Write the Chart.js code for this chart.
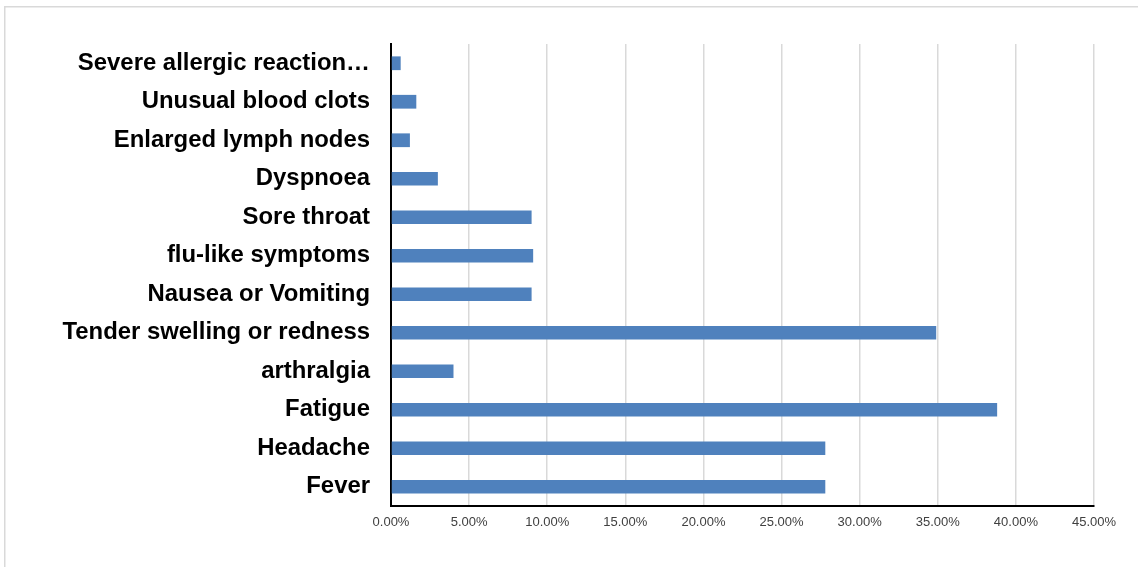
<!DOCTYPE html>
<html>
<head>
<meta charset="utf-8">
<script src="https://cdn.jsdelivr.net/npm/chart.js@4/dist/chart.umd.min.js"></script>
<style>
  html, body { margin: 0; padding: 0; background: #ffffff; }
  #wrap { width: 1138px; height: 567px; position: relative; }
</style>
</head>
<body>
<div id="wrap"><canvas id="chart" width="1138" height="567"></canvas></div>
<script>
// Reported side effects, listed top to bottom
const symptoms = [
  'Severe allergic reaction\u2026',
  'Unusual blood clots',
  'Enlarged lymph nodes',
  'Dyspnoea',
  'Sore throat',
  'flu-like symptoms',
  'Nausea or Vomiting',
  'Tender swelling or redness',
  'arthralgia',
  'Fatigue',
  'Headache',
  'Fever'
];

// Share of respondents reporting each symptom (%)
const shares = [0.62, 1.62, 1.21, 3.0, 9.0, 9.1, 9.0, 34.9, 4.0, 38.8, 27.8, 27.8];

// Value axis ticks (%)
const axisMin = 0;
const axisMax = 45;
const axisStep = 5;

const labelFont = "'Liberation Sans', Arial, Helvetica, sans-serif";

// Thin light-grey frame around the chart
const framePlugin = {
  id: 'frame',
  beforeDraw(chart) {
    const ctx = chart.ctx;
    ctx.save();
    ctx.fillStyle = '#ffffff';
    ctx.fillRect(0, 0, chart.width, chart.height);
    ctx.strokeStyle = '#d9d9d9';
    ctx.lineWidth = 1.5;
    ctx.strokeRect(4.75, 6.75, chart.width + 20, chart.height + 20);
    ctx.restore();
  }
};

new Chart(document.getElementById('chart'), {
  type: 'bar',
  data: {
    labels: symptoms,
    datasets: [{
      data: shares,
      backgroundColor: '#4f81bd',
      borderWidth: 0,
      categoryPercentage: 1,
      barPercentage: 0.357
    }]
  },
  options: {
    indexAxis: 'y',
    responsive: false,
    animation: false,
    devicePixelRatio: 1,
    layout: { padding: { left: 0, right: 44, top: 44, bottom: 0 } },
    plugins: {
      legend: { display: false },
      tooltip: { enabled: false }
    },
    scales: {
      x: {
        type: 'linear',
        min: axisMin,
        max: axisMax,
        ticks: {
          stepSize: axisStep,
          padding: 9,
          color: '#404040',
          font: { family: labelFont, size: 13 },
          maxRotation: 0,
          callback: v => v.toFixed(2) + '%'
        },
        grid: {
          color: '#d9d9d9',
          lineWidth: 1.5,
          drawTicks: false
        },
        border: { display: true, color: '#000000', width: 2 },
        afterFit(scale) { scale.height = 61; }
      },
      y: {
        ticks: {
          padding: 21,
          color: '#000000',
          font: { family: labelFont, size: 23.9, weight: 'bold' },
          autoSkip: false
        },
        grid: { display: false, drawTicks: false },
        border: { display: true, color: '#000000', width: 2 },
        afterFit(scale) { scale.width = 391; }
      }
    }
  },
  plugins: [framePlugin]
});
</script>
</body>
</html>
